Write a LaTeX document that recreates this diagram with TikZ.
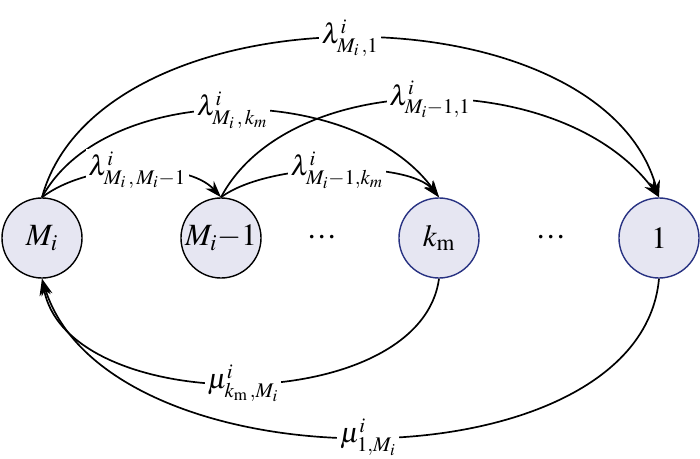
\documentclass[tikz,border=0pt]{standalone}
\usepackage{mathptmx}
\usetikzlibrary{arrows.meta}
\definecolor{statefill}{RGB}{230,230,242}
\definecolor{stateblue}{RGB}{40,50,130}

\begin{document}
\begin{tikzpicture}[x=0.025cm,y=-0.025cm,>={Stealth[length=12pt,width=8pt]},
  state/.style={circle,draw,line width=1pt,fill=statefill,minimum size=2cm,inner sep=0pt,font=\fontsize{22}{26}\selectfont},
  rate/.style={fill=white,inner sep=2pt,font=\fontsize{20}{24}\selectfont},
  trans/.style={->,line width=1.2pt}]
\useasboundingbox (0,0) rectangle (700,459);
% states
\node[state] (Mi) at (42,238) {$M_i$};
\node[state] (Mim) at (221,238) {$M_i{-}1$};
\node[state,draw=stateblue] (km) at (439,238) {$k_{\mathrm{m}}$};
\node[state,draw=stateblue] (one) at (659,238) {$1$};
\node[font=\fontsize{24}{26}\selectfont] (dotsA) at (322,238) {\boldmath$\cdot\!\cdot\!\cdot$};
\node[font=\fontsize{24}{26}\selectfont] (dotsB) at (551,238) {\boldmath$\cdot\!\cdot\!\cdot$};
% arrival rates
\draw[trans] (Mi.north) .. controls (100,-15) and (600,-15) .. (one.north) node[rate,midway] {$\lambda^i_{M_i\,,1}$};
\draw[trans] (Mi.north) .. controls (105,81) and (354,81) .. (km.north) node[rate,midway] {$\lambda^i_{M_i\,,\,k_m}$};
\draw[trans] (Mi.north) .. controls (90,161) and (188,161) .. (Mim.north) node[rate,midway] {$\lambda^i_{M_i\,,\,M_i-1}$};
\draw[trans] (Mim.north) .. controls (270,161) and (409,161) .. (km.north) node[rate,midway] {$\lambda^i_{M_i-1,k_m}$};
\draw[trans] (Mim.north) .. controls (290,67) and (563,67) .. (one.north) node[rate,midway] {$\lambda^i_{M_i-1,1}$};
% service rates
\draw[trans] (km.south) .. controls (420,418) and (68,418) .. (Mi.south) node[rate,midway] {$\mu^i_{k_{\mathrm{m}}\,,M_i}$};
\draw[trans] (one.south) .. controls (640,490) and (108,490) .. (Mi.south) node[rate,midway] {$\mu^i_{1,M_i}$};
\end{tikzpicture}
\end{document}
